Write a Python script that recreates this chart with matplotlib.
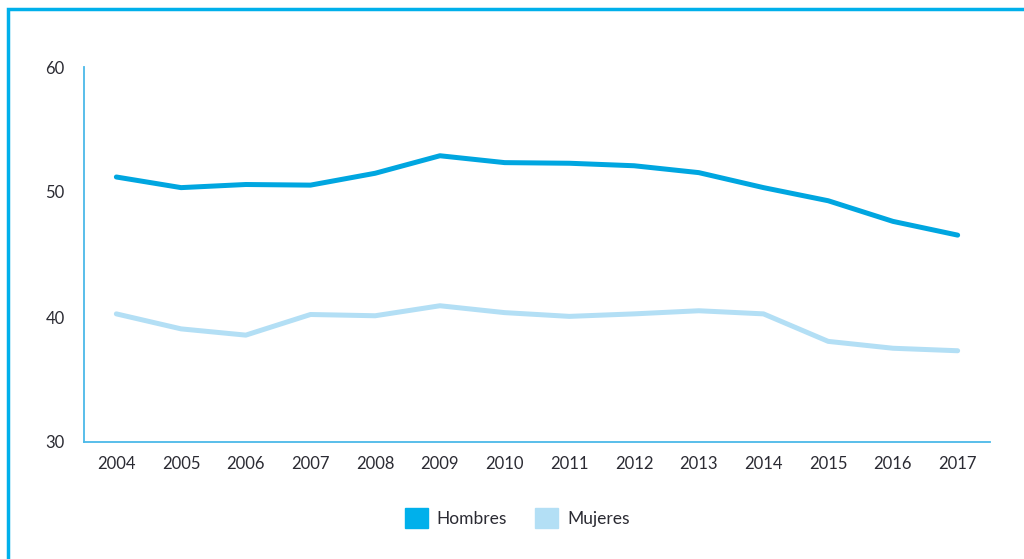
import matplotlib.pyplot as plt
from matplotlib.patches import Patch, Rectangle

years = ['2004', '2005', '2006', '2007', '2008', '2009', '2010',
         '2011', '2012', '2013', '2014', '2015', '2016', '2017']
hombres = [51.2, 50.35, 50.6, 50.55, 51.5, 52.9, 52.35,
           52.3, 52.1, 51.55, 50.35, 49.3, 47.65, 46.55]
mujeres = [40.25, 39.05, 38.55, 40.2, 40.1, 40.9, 40.35,
           40.05, 40.25, 40.5, 40.25, 38.05, 37.5, 37.3]
y_ticks = [30, 40, 50, 60]

c_hom = '#00A6E0'
c_muj = '#B3DFF5'
c_axis = '#4BB9E8'

plt.rcParams['font.family'] = ['Lato', 'DejaVu Sans']

fig = plt.figure(figsize=(10.24, 5.59), dpi=100)
ax = fig.add_axes([84 / 1024, 1 - 442 / 559, 906 / 1024, 375 / 559])

x = list(range(len(years)))
ax.plot(x, hombres, color=c_hom, lw=3.6, solid_capstyle='round', solid_joinstyle='round')
ax.plot(x, mujeres, color=c_muj, lw=3.6, solid_capstyle='round', solid_joinstyle='round')

ax.set_xlim(-0.5, len(years) - 0.5)
ax.set_ylim(30, 60)
ax.set_xticks(x)
ax.set_xticklabels(years)
ax.set_yticks(y_ticks)
ax.tick_params(length=0, labelsize=12, colors='#2b2b33')
ax.tick_params(axis='y', pad=14)
ax.tick_params(axis='x', pad=10)

for s in ['top', 'right']:
    ax.spines[s].set_visible(False)
for s in ['left', 'bottom']:
    ax.spines[s].set_color(c_axis)
    ax.spines[s].set_linewidth(1.3)

# outer frame (top and left edges visible)
fig.patches.append(Rectangle((8 / 1024, -0.1), 1.2, 1 - 9 / 559 + 0.1,
                             transform=fig.transFigure, fill=False,
                             edgecolor='#00B0EB', lw=2.5))

handles = [Patch(color='#00B0EB', label='Hombres'), Patch(color=c_muj, label='Mujeres')]
fig.legend(handles=handles, loc='center', bbox_to_anchor=(517 / 1024, 1 - 518 / 559),
           ncol=2, frameon=False, fontsize=12.5, handlelength=1.35, handleheight=1.35,
           handletextpad=0.5, columnspacing=1.6, labelcolor='#2b2b33')

fig.savefig('out.png', dpi=100)
